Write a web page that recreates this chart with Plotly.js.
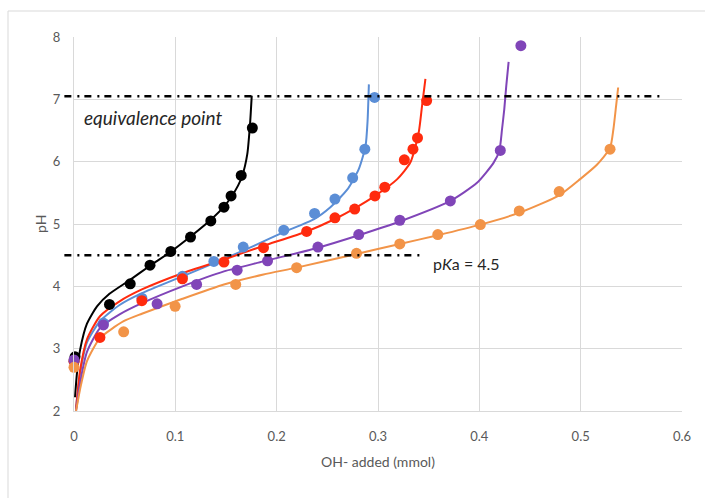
<!DOCTYPE html>
<html>
<head>
<meta charset="utf-8">
<script src="https://cdn.plot.ly/plotly-3.0.1.min.js"></script>
<style>
  html, body { margin: 0; padding: 0; background: #ffffff; }
  #chart { width: 705px; height: 498px; }
</style>
</head>
<body>
<div id="chart"></div>
<script>
// Titration of a weak acid (pKa 4.5) with OH-, five sample sizes.
// Measured points (mmol OH- added, pH)
const blackX  = [0.001, 0.035, 0.0555, 0.075, 0.0955, 0.115, 0.135, 0.148, 0.155, 0.165, 0.176];
const blackY  = [2.87, 3.71, 4.04, 4.34, 4.56, 4.79, 5.05, 5.27, 5.45, 5.78, 6.54];

const blueX   = [0, 0.029, 0.067, 0.107, 0.138, 0.167, 0.207, 0.2374, 0.2575, 0.275, 0.287, 0.2966];
const blueY   = [2.8, 3.41, 3.81, 4.16, 4.40, 4.63, 4.90, 5.17, 5.40, 5.74, 6.20, 7.03];

const redX    = [0, 0.0256, 0.067, 0.107, 0.148, 0.187, 0.2296, 0.2575, 0.277, 0.297, 0.3067, 0.326, 0.3345, 0.339, 0.348];
const redY    = [2.8, 3.18, 3.77, 4.12, 4.39, 4.62, 4.88, 5.10, 5.24, 5.45, 5.59, 6.03, 6.20, 6.38, 6.98];

const purpleX = [0, 0.029, 0.082, 0.121, 0.161, 0.191, 0.2407, 0.281, 0.3215, 0.3714, 0.4207, 0.441];
const purpleY = [2.82, 3.38, 3.72, 4.03, 4.26, 4.41, 4.63, 4.83, 5.06, 5.37, 6.18, 7.86];

const orangeX = [0, 0.049, 0.0998, 0.1596, 0.2197, 0.2788, 0.3215, 0.359, 0.401, 0.4394, 0.4788, 0.529];
const orangeY = [2.7, 3.27, 3.68, 4.03, 4.30, 4.53, 4.68, 4.83, 4.99, 5.21, 5.52, 6.20];

// Fitted titration curves
const blackFitX  = [0.001, 0.003, 0.006, 0.0128, 0.0227, 0.035, 0.055, 0.075, 0.095, 0.115, 0.135, 0.148, 0.155, 0.162, 0.166, 0.171, 0.1737, 0.1754];
const blackFitY  = [2.22, 2.62, 2.98, 3.40, 3.68, 3.88, 4.10, 4.33, 4.55, 4.80, 5.07, 5.28, 5.43, 5.62, 5.77, 6.12, 6.60, 7.06];

const blueFitX   = [0.002, 0.006, 0.0128, 0.0256, 0.045, 0.067, 0.107, 0.148, 0.168, 0.187, 0.207, 0.237, 0.253, 0.2696, 0.281, 0.2877, 0.2897, 0.291];
const blueFitY   = [2.05, 2.60, 3.10, 3.44, 3.70, 3.89, 4.16, 4.44, 4.58, 4.72, 4.87, 5.08, 5.27, 5.55, 5.88, 6.25, 6.65, 7.24];

const redFitX    = [0.002, 0.006, 0.0128, 0.0256, 0.045, 0.067, 0.107, 0.148, 0.187, 0.2296, 0.2575, 0.277, 0.297, 0.319, 0.332, 0.3402, 0.3435, 0.3468];
const redFitY    = [2.03, 2.65, 3.15, 3.52, 3.76, 3.95, 4.21, 4.43, 4.65, 4.88, 5.08, 5.25, 5.45, 5.72, 5.99, 6.47, 6.90, 7.33];

const purpleFitX = [0.002, 0.006, 0.0128, 0.0256, 0.045, 0.067, 0.107, 0.148, 0.187, 0.2407, 0.281, 0.3215, 0.3714, 0.3977, 0.414, 0.4197, 0.4224, 0.4246, 0.4266, 0.4289];
const purpleFitY = [2.00, 2.45, 2.95, 3.33, 3.55, 3.73, 4.00, 4.24, 4.40, 4.62, 4.82, 5.04, 5.37, 5.66, 5.98, 6.17, 6.52, 6.84, 7.22, 7.60];

const orangeFitX = [0.002, 0.006, 0.0128, 0.0256, 0.049, 0.067, 0.107, 0.148, 0.187, 0.2197, 0.2788, 0.3215, 0.359, 0.401, 0.4394, 0.4788, 0.4995, 0.516, 0.529, 0.5323, 0.535, 0.537];
const orangeFitY = [2.00, 2.35, 2.80, 3.17, 3.44, 3.56, 3.80, 4.03, 4.19, 4.30, 4.52, 4.68, 4.82, 4.99, 5.18, 5.46, 5.72, 5.95, 6.22, 6.52, 6.90, 7.19];

// Reference levels
const equivalencePH = 7.05;
const pKa = 4.5;

// Axis ticks
const xTickVals = [0, 0.1, 0.2, 0.3, 0.4, 0.5, 0.6];
const xTickText = ['0', '0.1', '0.2', '0.3', '0.4', '0.5', '0.6'];
const yTickVals = [2, 3, 4, 5, 6, 7, 8];

const colors = {
  black:  '#000000',
  blue:   '#5b8ed6',
  red:    '#ff2b0e',
  purple: '#8045b8',
  orange: '#f29448'
};

function fitTrace(x, y, color) {
  return {
    x: x, y: y, type: 'scatter', mode: 'lines',
    line: { color: color, width: 2, shape: 'spline', smoothing: 0.6 },
    hoverinfo: 'skip', showlegend: false, cliponaxis: false
  };
}
function pointTrace(x, y, color) {
  return {
    x: x, y: y, type: 'scatter', mode: 'markers',
    marker: { color: color, size: 11, line: { width: 0 } },
    showlegend: false, cliponaxis: false
  };
}

const traces = [
  fitTrace(blackFitX, blackFitY, colors.black),
  fitTrace(blueFitX, blueFitY, colors.blue),
  fitTrace(redFitX, redFitY, colors.red),
  fitTrace(purpleFitX, purpleFitY, colors.purple),
  fitTrace(orangeFitX, orangeFitY, colors.orange),
  pointTrace(blackX, blackY, colors.black),
  pointTrace(blueX, blueY, colors.blue),
  pointTrace(redX, redY, colors.red),
  pointTrace(purpleX, purpleY, colors.purple),
  pointTrace(orangeX, orangeY, colors.orange)
];

const xRange = [0, 0.6];
const yRange = [2, 8];
const toPaperY = v => (v - yRange[0]) / (yRange[1] - yRange[0]);
const toPaperX = v => (v - xRange[0]) / (xRange[1] - xRange[0]);

const refLine = { color: '#000000', width: 2.5, dash: '7px,6px,2px,5px' };

const layout = {
  width: 705, height: 498,
  margin: { l: 74, r: 23, t: 37, b: 87 },
  paper_bgcolor: '#ffffff', plot_bgcolor: '#ffffff',
  font: { family: 'Lato, "Open Sans", sans-serif', color: '#595959', size: 13 },
  showlegend: false,
  xaxis: {
    range: xRange, tickvals: xTickVals, ticktext: xTickText,
    showgrid: true, gridcolor: '#d9d9d9', gridwidth: 1,
    showline: true, linecolor: '#d9d9d9', linewidth: 1,
    zeroline: false, ticks: '', ticklabelstandoff: 13,
    tickfont: { size: 13, color: '#595959' },
    title: { text: 'OH- added (mmol)', font: { size: 14, color: '#595959' }, standoff: 14 }
  },
  yaxis: {
    range: yRange, tickvals: yTickVals,
    showgrid: true, gridcolor: '#d9d9d9', gridwidth: 1,
    showline: true, linecolor: '#d9d9d9', linewidth: 1,
    zeroline: false, ticks: '', ticklabelstandoff: 10,
    tickfont: { size: 13, color: '#595959' }
  },
  shapes: [
    // chart frame
    { type: 'rect', xref: 'paper', yref: 'paper',
      x0: (8 - 74) / 608, x1: 1.1, y0: -0.3, y1: 1 + 26 / 374,
      line: { color: '#d9d9d9', width: 1 }, fillcolor: 'rgba(0,0,0,0)', layer: 'below' },
    // equivalence point level
    { type: 'line', xref: 'paper', yref: 'paper',
      x0: toPaperX(-0.0095), x1: toPaperX(0.578),
      y0: toPaperY(equivalencePH), y1: toPaperY(equivalencePH), line: refLine },
    // pKa level
    { type: 'line', xref: 'paper', yref: 'paper',
      x0: toPaperX(-0.0095), x1: toPaperX(0.344),
      y0: toPaperY(pKa), y1: toPaperY(pKa), line: refLine }
  ],
  annotations: [
    // y axis title
    { x: -34 / 608, y: 0.5, xref: 'paper', yref: 'paper', xanchor: 'center', yanchor: 'middle',
      text: 'pH', textangle: -90, showarrow: false,
      font: { size: 14, color: '#595959' } },
    { x: 0.008, y: 6.71, xref: 'x', yref: 'y', xanchor: 'left', yanchor: 'middle',
      text: '<i>equivalence point</i>', showarrow: false,
      font: { size: 19, color: '#262626' } },
    { x: 0.352, y: 4.36, xref: 'x', yref: 'y', xanchor: 'left', yanchor: 'middle',
      text: 'p<i>K</i>a = 4.5', showarrow: false,
      font: { size: 16, color: '#262626' } }
  ]
};

Plotly.newPlot('chart', traces, layout, { staticPlot: true, displayModeBar: false });
</script>
</body>
</html>
